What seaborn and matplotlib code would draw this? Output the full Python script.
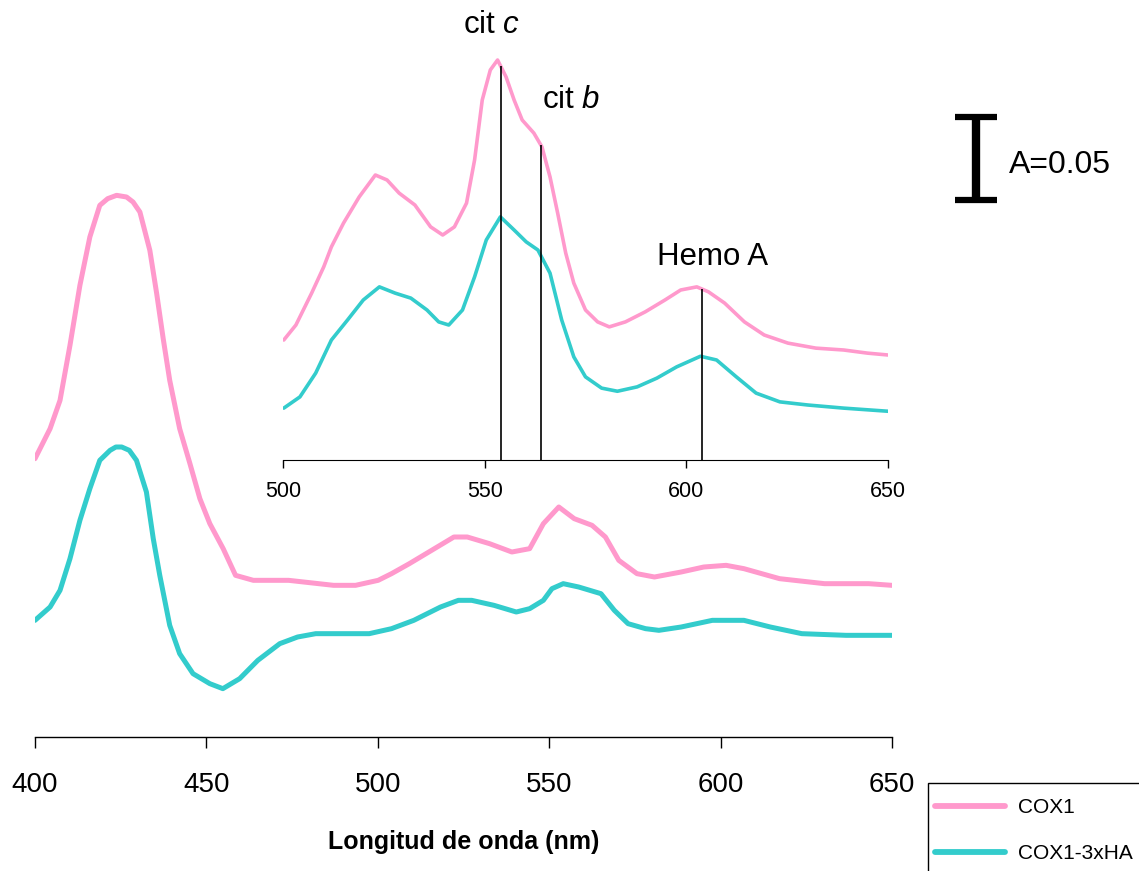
import matplotlib
matplotlib.use("Agg")
import matplotlib.pyplot as plt
from matplotlib.patches import Rectangle
import numpy as np
import pandas as pd
import seaborn as sns

# Main spectra (absorbance, a.u.) 400-650 nm
wl_cox1 = [400, 404.4, 407.3, 410.2, 413.1, 416, 418.9, 421.2, 423.8, 426.7, 428.6, 430.6, 433.5,
           435.5, 437.4, 439.3, 442.2, 445.2, 448.1, 451, 454.9, 458.5, 463.7, 474, 487.1, 493.5,
           500.1, 504, 509.2, 515.7, 522.2, 526.1, 532.6, 539.1, 544.3, 548.3, 552.8, 557.3,
           562.5, 566.4, 570.3, 575.6, 580.7, 588.5, 595.1, 601.6, 606.8, 617.2, 630.3, 643.2, 650]
abs_cox1 = [0.167, 0.185, 0.202, 0.235, 0.271, 0.300, 0.319, 0.323, 0.325, 0.324, 0.321, 0.315,
            0.292, 0.266, 0.239, 0.214, 0.185, 0.164, 0.143, 0.128, 0.113, 0.097, 0.094, 0.094,
            0.091, 0.091, 0.094, 0.098, 0.104, 0.112, 0.120, 0.120, 0.116, 0.111, 0.113, 0.128,
            0.138, 0.131, 0.127, 0.120, 0.106, 0.098, 0.096, 0.099, 0.102, 0.103, 0.101, 0.095,
            0.092, 0.092, 0.091]

wl_ha = [400, 404.4, 407.3, 410.2, 413.1, 416, 418.9, 421.9, 423.6, 425.3, 427.5, 429.6, 432.5,
         434.5, 436.4, 439.3, 442.2, 446.1, 451, 454.8, 459.7, 465, 471.4, 476.6, 481.9, 487.1,
         497.5, 504, 510.5, 518.3, 523.5, 527.4, 533.9, 540.4, 544.3, 548.3, 550.8, 554.1,
         558.6, 565.1, 569, 573, 578.1, 582, 588.5, 597.6, 606.8, 614.5, 623.7, 636.6, 650]
abs_ha = [0.070, 0.078, 0.088, 0.107, 0.130, 0.149, 0.166, 0.172, 0.174, 0.174, 0.172, 0.166,
          0.147, 0.119, 0.097, 0.067, 0.050, 0.038, 0.032, 0.029, 0.035, 0.046, 0.056, 0.060,
          0.062, 0.062, 0.062, 0.065, 0.070, 0.078, 0.082, 0.082, 0.079, 0.075, 0.077, 0.082,
          0.089, 0.092, 0.090, 0.086, 0.076, 0.068, 0.065, 0.064, 0.066, 0.070, 0.070, 0.066,
          0.062, 0.061, 0.061]

# Inset spectra (expanded scale) 500-650 nm
wl_in_cox1 = [500.2, 503.2, 507.1, 510.1, 512, 515, 518.9, 522.9, 525.8, 528.8, 532.7, 536.6,
              539.6, 542.5, 545.5, 547.5, 549.4, 551.4, 553.2, 555.3, 557.3, 559.3, 562.2, 564.2,
              566.2, 568.1, 570.1, 572.1, 575, 578, 580.9, 584.9, 589.8, 594.7, 598.6, 602.6,
              605.5, 609.5, 614.4, 619.3, 625.2, 632.1, 639, 644.9, 650]
abs_in_cox1 = [0.0192, 0.0216, 0.0267, 0.0309, 0.0341, 0.0379, 0.0421, 0.0456, 0.0448, 0.0427,
               0.0408, 0.0373, 0.0360, 0.0373, 0.0411, 0.0480, 0.0576, 0.0624, 0.0640, 0.0613,
               0.0576, 0.0544, 0.0523, 0.0501, 0.0453, 0.0395, 0.0331, 0.0283, 0.0240, 0.0221,
               0.0213, 0.0221, 0.0237, 0.0256, 0.0272, 0.0277, 0.0269, 0.0251, 0.0221, 0.0200,
               0.0187, 0.0179, 0.0176, 0.0171, 0.0168]

wl_in_ha = [500.2, 504.2, 508.1, 512, 516, 519.9, 523.9, 527.8, 531.7, 535.7, 538.6, 541.1,
            544.5, 547.5, 550.4, 553.9, 557.3, 560.3, 563.2, 566.2, 569.1, 572.1, 575, 579,
            582.9, 587.8, 592.7, 597.6, 603.5, 607.5, 612.4, 617.3, 623.2, 630.1, 639, 650]
abs_in_ha = [0.0083, 0.0101, 0.0139, 0.0192, 0.0224, 0.0256, 0.0277, 0.0267, 0.0259, 0.0240,
             0.0221, 0.0216, 0.0240, 0.0293, 0.0352, 0.0389, 0.0368, 0.0349, 0.0336, 0.0299,
             0.0224, 0.0165, 0.0133, 0.0115, 0.0110, 0.0117, 0.0131, 0.0149, 0.0166, 0.0160,
             0.0133, 0.0107, 0.0093, 0.0088, 0.0083, 0.0078]

series_names = ["COX1", "COX1-3xHA"]
colors = {"COX1": "#FF99CC", "COX1-3xHA": "#33CCCC"}
ticks_main = [400, 450, 500, 550, 600, 650]
ticks_inset = [500, 550, 600, 650]
peak_wl = [554, 564, 604]
peak_labels = ["cit $\\it{c}$", "cit $\\it{b}$", "Hemo A"]
label_pos = [(551.6, 0.0696), (571.4, 0.0576), (606.6, 0.0325)]

df_main = pd.concat([
    pd.DataFrame({"wl": wl_cox1, "A": abs_cox1, "muestra": "COX1"}),
    pd.DataFrame({"wl": wl_ha, "A": abs_ha, "muestra": "COX1-3xHA"}),
])
df_inset = pd.concat([
    pd.DataFrame({"wl": wl_in_cox1, "A": abs_in_cox1, "muestra": "COX1"}),
    pd.DataFrame({"wl": wl_in_ha, "A": abs_in_ha, "muestra": "COX1-3xHA"}),
])

sns.set_style("white")
plt.rcParams["font.family"] = ["Liberation Sans", "DejaVu Sans"]
plt.rcParams["mathtext.fontset"] = "custom"
plt.rcParams["mathtext.rm"] = "Liberation Sans"
plt.rcParams["mathtext.it"] = "Liberation Sans:italic"
plt.rcParams["text.color"] = "black"
plt.rcParams["axes.labelcolor"] = "black"
plt.rcParams["xtick.color"] = "black"
plt.rcParams["xtick.labelcolor"] = "black"

fig = plt.figure(figsize=(11.39, 8.71), dpi=100)

# Main plot
ax = fig.add_axes([35 / 1139, 134 / 871, 857 / 1139, 557 / 871])
sns.lineplot(data=df_main, x="wl", y="A", hue="muestra", hue_order=series_names,
             palette=colors, estimator=None, sort=False, linewidth=3.6, legend=False, ax=ax)
ax.set_xlim(400, 650)
ax.set_ylim(0, 0.3342)
for s in ["top", "left", "right"]:
    ax.spines[s].set_visible(False)
ax.spines["bottom"].set_color("black")
ax.spines["bottom"].set_linewidth(1.0)
ax.set_yticks([])
ax.set_ylabel("")
ax.set_xticks(ticks_main)
ax.tick_params(axis="x", direction="out", length=8, width=1, color="black",
               labelsize=20, pad=17, bottom=True)
ax.set_xlabel("Longitud de onda (nm)", fontsize=18, fontweight="bold", labelpad=23)

# scale bar A=0.05
sb_x, sb_y0 = 674.5, 0.322
ax.plot([sb_x, sb_x], [sb_y0, sb_y0 + 0.05], color="black", lw=6, clip_on=False,
        solid_capstyle="butt")
for yy in [sb_y0, sb_y0 + 0.05]:
    ax.plot([sb_x - 6, sb_x + 6], [yy, yy], color="black", lw=4.5, clip_on=False,
            solid_capstyle="butt")
ax.text(684.1, 0.3432, "A=0.05", fontsize=23, ha="left", va="center")

# Inset
axi = fig.add_axes([283 / 1139, 411 / 871, 605 / 1139, 420 / 871])
axi.patch.set_alpha(0)
sns.lineplot(data=df_inset, x="wl", y="A", hue="muestra", hue_order=series_names,
             palette=colors, estimator=None, sort=False, linewidth=2.6, legend=False, ax=axi)
axi.set_xlim(500, 650)
axi.set_ylim(0, 0.0672)
for s in ["top", "left", "right"]:
    axi.spines[s].set_visible(False)
axi.spines["bottom"].set_color("black")
axi.set_yticks([])
axi.set_ylabel("")
axi.set_xlabel("")
axi.set_xticks(ticks_inset)
axi.tick_params(axis="x", direction="out", length=6, width=1, color="black",
                labelsize=15.5, pad=9, bottom=True)

tops = np.interp(peak_wl, wl_in_cox1, abs_in_cox1)
axi.vlines(peak_wl, 0, tops, color="black", lw=1.2)
for lab, (lx, ly) in zip(peak_labels, label_pos):
    axi.text(lx, ly, lab, fontsize=22.5, ha="center", va="center", clip_on=False)

# Legend: frame drawn separately, it runs past the figure edge as in the original
fig.patches.append(Rectangle((928 / 1139, -0.05), 0.2, 1 - 783 / 871 + 0.05,
                             transform=fig.transFigure, facecolor="white",
                             edgecolor="black", linewidth=1.0, zorder=5))
handles = ax.get_lines()[:2]
leg = fig.legend(handles, series_names, loc="upper left",
                 bbox_to_anchor=(935 / 1139, 1 - 798 / 871),
                 frameon=False, fontsize=15, handlelength=3.35, handletextpad=0.62,
                 labelspacing=1.3, borderpad=0, borderaxespad=0)
leg.set_zorder(6)
for line in leg.get_lines():
    line.set_linewidth(4.2)

fig.savefig("out.png", dpi=100)
